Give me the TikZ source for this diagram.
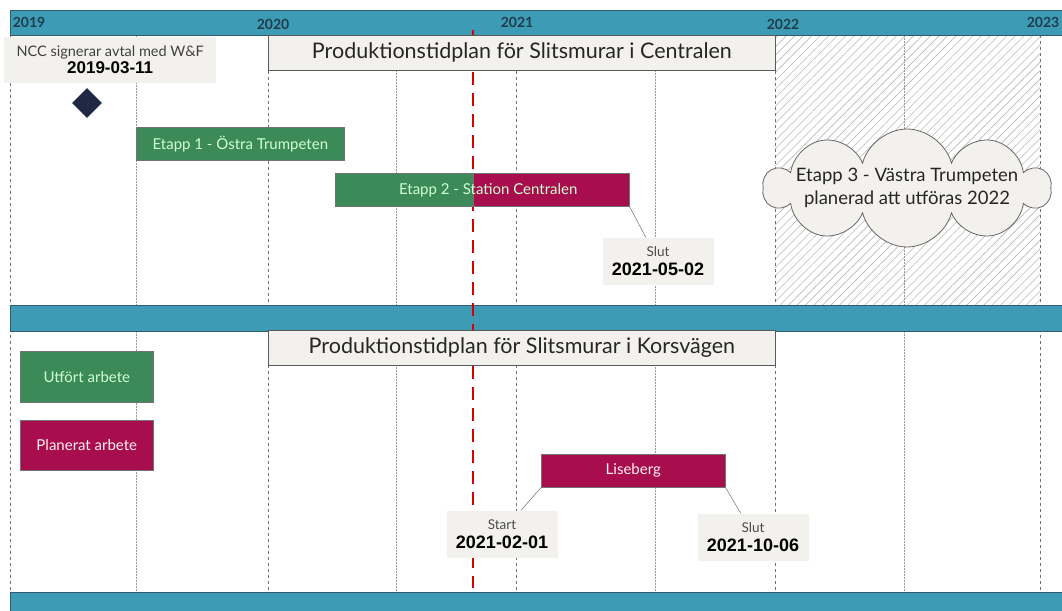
\documentclass[tikz,border=0pt]{standalone}
\usepackage{fontspec}
\setmainfont{Lato}
\newfontfamily\datefont{Liberation Sans}
\usetikzlibrary{shapes.geometric,shapes.symbols,patterns.meta,calc}
\definecolor{barblue}{HTML}{3E9BB6}
\definecolor{barline}{HTML}{2F5D6B}
\definecolor{done}{HTML}{3B8A57}
\definecolor{planned}{HTML}{A80D4D}
\definecolor{note}{HTML}{F3F1ED}
\definecolor{navy}{HTML}{1F2944}
\definecolor{yeartext}{HTML}{1F3D4B}
\tikzstyle{band} = [draw = barline, fill = barblue, line width = 0.8pt]
\tikzstyle{task} = [rectangle, draw = black!55, line width = 0.6pt, minimum height = 33, inner sep = 0, anchor = north west]
\tikzstyle{leader} = [gray, line width = 0.6pt]
\newcommand{\datetext}[1]{{\datefont\bfseries\fontsize{18}{20}\selectfont\color{black}#1}}

\begin{document}
\begin{tikzpicture}[
x=1pt,y=-1pt,
font=\fontsize{15}{17}\selectfont,
year/.style={font=\fontsize{14}{16}\selectfont\bfseries,text=yeartext},
title/.style={draw=black!65,line width=0.8pt,fill=note,minimum width=507,minimum height=35,anchor=north west,font=\fontsize{21.5}{24}\selectfont,text=black!85},
callout/.style={fill=note,minimum width=111,minimum height=47,inner sep=0,align=center,font=\fontsize{13.5}{15}\selectfont,text=black!70},
tasktext/.style={text=white!82!green},
yearline/.style={dashed,black!55,line width=0.6pt},
halfline/.style={densely dotted,black!40,line width=0.5pt},
today/.style={red!85!black,line width=2.4pt,dash pattern=on 13pt off 8pt}]

\useasboundingbox (0,0) rectangle (1062,610);

% grid
\fill[pattern={Lines[angle=45,distance=6pt,line width=0.6pt]},pattern color=black!28] (775,35) rectangle (1040,305);
\foreach \x in {10,268,516,775,1040}
  \draw[yearline] (\x,35) -- (\x,592);
\foreach \x in {136,396,655,904}
  \draw[halfline] (\x,35) -- (\x,592);

% bands
\draw[band] (10,10) rectangle (1066,35);
\draw[band] (10,305) rectangle (1066,331);
\draw[band] (10,592) rectangle (1066,614);

\node[year] (y2019) at (29,22) {2019};
\node[year] (y2020) at (273,24) {2020};
\node[year] (y2021) at (517,22) {2021};
\node[year] (y2022) at (783,24) {2022};
\node[year] (y2023) at (1043,22) {2023};

\draw[today] (473,30) -- (473,588);

% Centralen
\node[title] (centralen) at (268,35) {Produktionstidplan för Slitsmurar i Centralen};
\node[callout,minimum width=212,minimum height=46,anchor=north west,font=\fontsize{14.5}{16}\selectfont,text=black!75] (ncc) at (4,37)
  {NCC signerar avtal med W\&F\\[1pt]{\datefont\bfseries\fontsize{17}{19}\selectfont\color{black}2019-03-11}};
\node[diamond,fill=navy,minimum size=30,inner sep=0] (milestone) at (87,103) {};
\node[task,fill=done,minimum width=208,tasktext] (etapp1) at (136,127) {Etapp 1 - Östra Trumpeten};
\node[task,fill=done,minimum width=138] (etapp2a) at (335,173) {};
\node[task,fill=planned,minimum width=156] (etapp2b) at (473,173) {};
\node[tasktext] (etapp2) at ($(etapp2a.west)!0.52!(etapp2b.east)$) {Etapp 2 - Station Centralen};
\node[callout] (slut1) at (658,261) {Slut\\[4pt]\datetext{2021-05-02}};
\draw[leader] (etapp2b.south east) -- ($(slut1.north west)!0.39!(slut1.north east)$);
\node[cloud,cloud puffs=10,cloud ignores aspect,draw=black!60,line width=0.8pt,fill=note,minimum width=286,minimum height=118,
  label={[align=center,font=\fontsize{18.5}{23}\selectfont,text=black!85]center:Etapp 3 - Västra Trumpeten\\planerad att utföras 2022}] (etapp3) at (907,188) {};

% Korsvägen
\node[title] (korsvagen) at (268,330) {Produktionstidplan för Slitsmurar i Korsvägen};
\node[task,fill=done,minimum width=133,minimum height=51,tasktext] (utfort) at (20,351) {Utfört arbete};
\node[task,fill=planned,minimum width=133,minimum height=50,text=white!80!pink] (planerat) at (20,420) {Planerat arbete};
\node[task,fill=planned,minimum width=184,text=white!80!pink] (liseberg) at (541,454) {Liseberg};
\node[callout] (start) at (502,534) {Start\\[4pt]\datetext{2021-02-01}};
\node[callout] (slut2) at (753,537) {Slut\\[4pt]\datetext{2021-10-06}};
\draw[leader] (liseberg.south west) -- ($(start.north west)!0.67!(start.north east)$);
\draw[leader] (liseberg.south east) -- ($(slut2.north west)!0.39!(slut2.north east)$);
\end{tikzpicture}
\end{document}
